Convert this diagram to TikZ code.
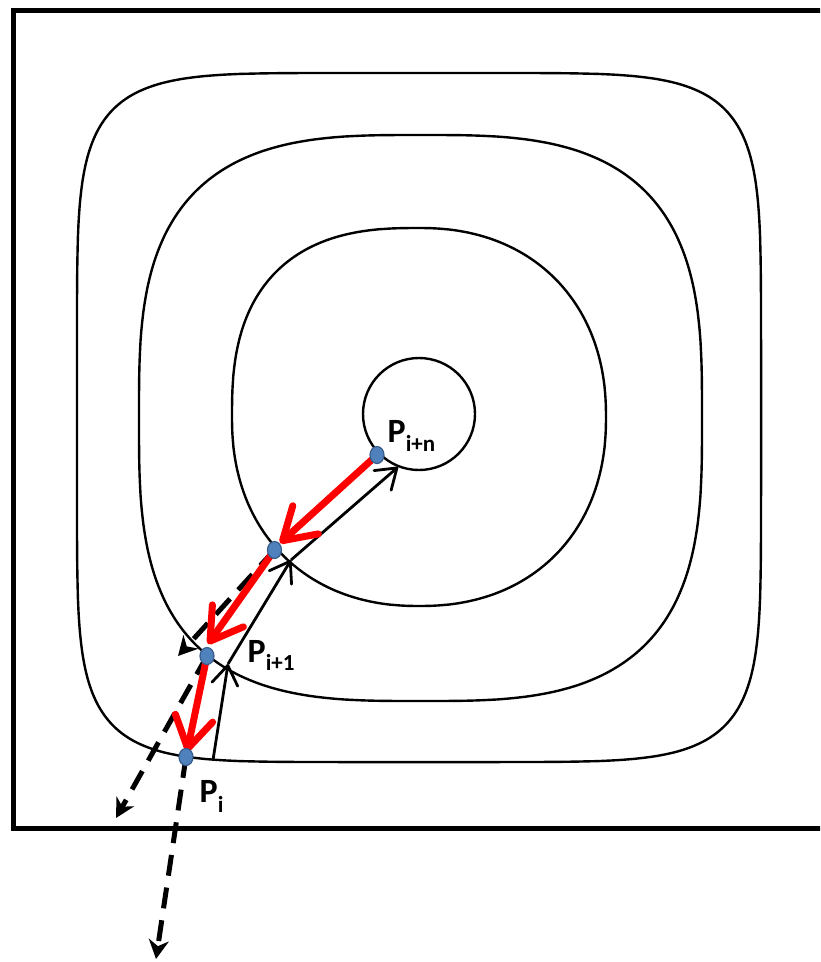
\documentclass[tikz,border=0pt]{standalone}
\usepackage{fontspec}
\setmainfont{Carlito}
\usetikzlibrary{arrows.meta,shapes.geometric}
\definecolor{dotfill}{HTML}{4F81BD}
\definecolor{dotline}{HTML}{385D8A}
\definecolor{redline}{HTML}{FF0000}
\begin{document}
\begin{tikzpicture}[x=1pt,y=-1pt,
  contour/.style={line width=2.4pt},
  framebox/.style={line width=5pt},
  redarrow/.style={draw=redline,line width=7pt,-{Straight Barb[length=31pt,width=38pt,round]}},
  blackarrow/.style={line width=2.8pt,-{Straight Barb[length=19pt,width=26pt,round]}},
  dasharrow/.style={line width=5pt,dash pattern=on 21pt off 12pt,-{Stealth[length=19pt,width=20pt,inset=6pt]}},
  ptdot/.style={ellipse,minimum width=14pt,minimum height=17pt,inner sep=0pt,fill=dotfill,draw=dotline,line width=1.2pt},
  plabel/.style={anchor=base west,inner sep=0pt,font=\fontsize{34}{34}\selectfont\bfseries}
]
\useasboundingbox (0,0) rectangle (820,962);
\clip (0,0) rectangle (820,962);

% frame
\draw[framebox] (13,10) rectangle (840,828);

% contours (superellipses)
\draw[contour] plot[domain=0.5:360.5,samples=361]
  ({419+342*ifthenelse(cos(\x)<0,-1,1)*pow(abs(cos(\x)),2/6.2)},
   {417.5+344.5*ifthenelse(sin(\x)<0,-1,1)*pow(abs(sin(\x)),2/6.2)}) -- cycle;
\draw[contour] plot[domain=0.5:360.5,samples=361]
  ({420.5+281.5*ifthenelse(cos(\x)<0,-1,1)*pow(abs(cos(\x)),2/3.1)},
   {418+283*ifthenelse(sin(\x)<0,-1,1)*pow(abs(sin(\x)),2/3.1)}) -- cycle;
\draw[contour] plot[domain=0.5:360.5,samples=361]
  ({419+187*ifthenelse(cos(\x)<0,-1,1)*pow(abs(cos(\x)),2/ifthenelse(and(\x>180,\x<270),2.6,2.2))},
   {417+189*ifthenelse(sin(\x)<0,-1,1)*pow(abs(sin(\x)),2/ifthenelse(and(\x>180,\x<270),2.6,2.2))}) -- cycle;
\draw[contour] (419,414) circle[radius=56];

% points
\coordinate (pn) at (377,455);
\coordinate (p2) at (274.5,550);
\coordinate (p1) at (207,656);
\coordinate (p0) at (186,757);

% black arrow coordinates
\coordinate (b0) at (213,760);
\coordinate (b1) at (228,664);
\coordinate (b2) at (291,560);
\coordinate (b3) at (398,467);

% dashed arrow ends
\coordinate (d1) at (178,656);
\coordinate (d2) at (116,818);
\coordinate (d3) at (156,959);

% red arrow ends
\coordinate (r1) at (280,543);
\coordinate (r2) at (208,644);
\coordinate (r3) at (187,752);

% dashed arrows
\draw[dasharrow] (p2) -- (d1);
\draw[dasharrow] (p1) -- (d2);
\draw[dasharrow] (p0) -- (d3);

% black arrows
\draw[blackarrow] (b0) -- (b1);
\draw[blackarrow] (b1) -- (b2);
\draw[blackarrow] (b2) -- (b3);

% red arrows
\draw[redarrow] (pn) -- (r1);
\draw[redarrow] (p2) -- (r2);
\draw[redarrow] (p1) -- (r3);

% dots
\node[ptdot] (dn) at (pn) {};
\node[ptdot] (d2dot) at (p2) {};
\node[ptdot] (d1dot) at (p1) {};
\node[ptdot] (d0dot) at (p0) {};

% labels
\node[plabel] (ln) at (387.5,442) {P\raisebox{-9pt}{\fontsize{23}{23}\selectfont i+n}};
\node[plabel] (l1) at (247.5,662) {P\raisebox{-8pt}{\fontsize{23}{23}\selectfont i+1}};
\node[plabel] (l0) at (199.5,802) {P\raisebox{-10pt}{\fontsize{23}{23}\selectfont i}};
\end{tikzpicture}
\end{document}
